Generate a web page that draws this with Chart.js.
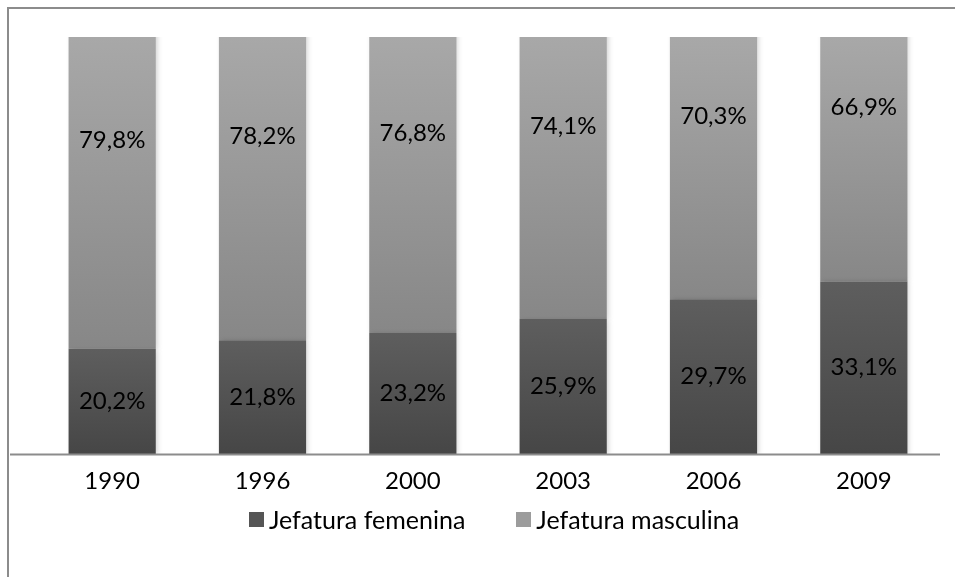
<!DOCTYPE html>
<html>
<head>
<meta charset="utf-8">
<script src="https://cdn.jsdelivr.net/npm/chart.js@4"></script>
<style>
  html, body { margin: 0; padding: 0; background: #fff; }
  #wrap { position: relative; width: 955px; height: 577px; overflow: hidden; }
  #frame { position: absolute; left: 7px; top: 7px; width: 2000px; height: 2000px;
           border-top: 2px solid #8c8c8c; border-left: 2px solid #8c8c8c; box-sizing: border-box; }
  canvas { position: absolute; left: 0; top: 0; }
</style>
</head>
<body>
<div id="wrap">
  <div id="frame"></div>
  <canvas id="c" width="955" height="577"></canvas>
</div>
<script>
const years = ['1990', '1996', '2000', '2003', '2006', '2009'];
const femenina = [20.2, 21.8, 23.2, 25.9, 29.7, 33.1];
const masculina = [79.8, 78.2, 76.8, 74.1, 70.3, 66.9];
const seriesNames = ['Jefatura femenina', 'Jefatura masculina'];
const axisMax = 80;

const FONT = 'Lato, "Open Sans", sans-serif';
const legendSwatches = ['#555555', '#9c9c9c'];

function segGradient(ctx, topColor, bottomColor) {
  const chart = ctx.chart;
  const area = chart.chartArea;
  if (!area || ctx.type !== 'data') return bottomColor;
  const ys = chart.scales.y;
  let base = 0;
  for (let d = 0; d < ctx.datasetIndex; d++) base += chart.data.datasets[d].data[ctx.dataIndex];
  const val = chart.data.datasets[ctx.datasetIndex].data[ctx.dataIndex];
  let y0 = Math.min(ys.getPixelForValue(base), area.bottom);
  let y1 = Math.max(ys.getPixelForValue(base + val), area.top);
  if (Math.abs(y0 - y1) < 1) y1 = y0 - 1;
  const g = chart.ctx.createLinearGradient(0, y1, 0, y0);
  g.addColorStop(0, topColor);
  g.addColorStop(1, bottomColor);
  return g;
}

const shadowPlugin = {
  id: 'barShadow',
  beforeDatasetsDraw(chart) {
    const c = chart.ctx;
    c.save();
    c.shadowColor = 'rgba(0,0,0,0.18)';
    c.shadowBlur = 5;
    c.shadowOffsetX = 2;
    c.shadowOffsetY = 1;
  },
  afterDatasetsDraw(chart) {
    chart.ctx.restore();
  }
};

const axisLinePlugin = {
  id: 'axisLine',
  afterDatasetsDraw(chart) {
    const c = chart.ctx;
    const a = chart.chartArea;
    c.save();
    c.strokeStyle = '#8c8c8c';
    c.lineWidth = 2;
    c.beginPath();
    c.moveTo(10, a.bottom + 0.5);
    c.lineTo(a.right + 1, a.bottom + 0.5);
    c.stroke();
    c.restore();
  }
};

const labelPlugin = {
  id: 'segLabels',
  afterDatasetsDraw(chart) {
    const c = chart.ctx;
    const ys = chart.scales.y;
    c.save();
    c.font = '24px ' + FONT;
    c.fillStyle = '#000';
    c.textAlign = 'center';
    c.textBaseline = 'middle';
    chart.data.datasets.forEach((ds, di) => {
      const meta = chart.getDatasetMeta(di);
      meta.data.forEach((bar, i) => {
        let base = 0;
        for (let d = 0; d < di; d++) base += chart.data.datasets[d].data[i];
        const v = ds.data[i];
        const y = ys.getPixelForValue(base + v / 2);
        c.fillText(v.toFixed(1).replace('.', ',') + '%', bar.x, y);
      });
    });
    c.restore();
  }
};

const legendPlugin = {
  id: 'customLegend',
  afterDraw(chart) {
    const c = chart.ctx;
    const box = 15, gapBoxText = 5, gapItems = 51;
    const cy = 519.5, cx = 494;
    c.save();
    c.font = '25px ' + FONT;
    c.textBaseline = 'middle';
    c.textAlign = 'left';
    const items = chart.data.datasets.map((ds, i) => ({ text: ds.label, w: c.measureText(ds.label).width, col: legendSwatches[i] }));
    let total = 0;
    items.forEach((it, i) => { total += box + gapBoxText + it.w + (i < items.length - 1 ? gapItems : 0); });
    let x = cx - total / 2;
    items.forEach((it) => {
      c.fillStyle = it.col;
      c.fillRect(Math.round(x), Math.round(cy - box / 2), box, box);
      x += box + gapBoxText;
      c.fillStyle = '#000';
      c.fillText(it.text, x, cy + 1);
      x += it.w + gapItems;
    });
    c.restore();
  }
};

new Chart(document.getElementById('c'), {
  type: 'bar',
  data: {
    labels: years,
    datasets: [
      {
        label: seriesNames[0],
        data: femenina,
        backgroundColor: (ctx) => segGradient(ctx, '#5e5e5e', '#464646'),
        borderWidth: 0
      },
      {
        label: seriesNames[1],
        data: masculina,
        backgroundColor: (ctx) => segGradient(ctx, '#a8a8a8', '#878787'),
        borderWidth: 0
      }
    ]
  },
  options: {
    responsive: false,
    animation: false,
    devicePixelRatio: 1,
    categoryPercentage: 1,
    barPercentage: 0.58,
    layout: { padding: { top: 37, left: 37, right: 16, bottom: 73 } },
    scales: {
      x: {
        stacked: true,
        grid: { display: false },
        border: { display: false },
        ticks: { color: '#000', font: { family: FONT, size: 24 }, padding: 5 },
        afterFit(scale) { scale.height = 50; }
      },
      y: {
        stacked: true,
        display: false,
        min: 0,
        max: axisMax
      }
    },
    plugins: {
      legend: { display: false },
      tooltip: { enabled: false }
    }
  },
  plugins: [shadowPlugin, axisLinePlugin, labelPlugin, legendPlugin]
});
</script>
</body>
</html>
